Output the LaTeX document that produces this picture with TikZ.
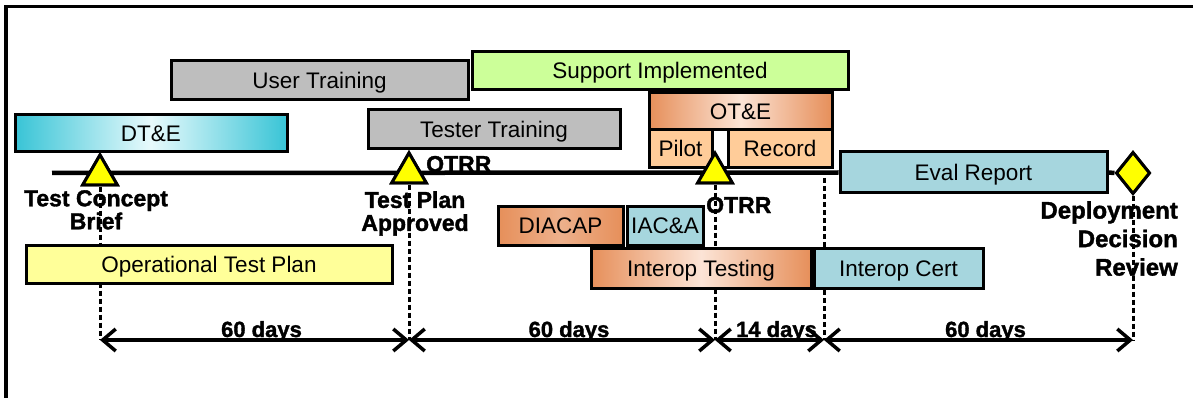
\documentclass[tikz,border=0pt]{standalone}
\usepackage{fontspec}
\setmainfont{Liberation Sans}
\newfontfamily\heavyfont{Liberation Sans}[BoldFeatures={FakeBold=1.5}]
\usetikzlibrary{arrows.meta,shapes.geometric}
\definecolor{grayfill}{HTML}{BEBEBE}
\definecolor{greenfill}{HTML}{CCFF99}
\definecolor{paleyellow}{HTML}{FFFF99}
\definecolor{peach}{HTML}{FFCC99}
\definecolor{lightblue}{HTML}{A6D6DE}
\definecolor{orangefill}{HTML}{E68F5A}
\definecolor{orangelight}{HTML}{FCE4D6}
\definecolor{cyanfill}{HTML}{38C4D6}
\definecolor{cyanlight}{HTML}{E8FAFC}
\definecolor{markyellow}{HTML}{FFFF00}
\begin{document}
\begin{tikzpicture}[x=1pt,y=-1pt,
  box/.style={draw=black, line width=3pt, inner sep=0pt,
    font=\fontsize{22.5}{22.5}\selectfont, text height=16pt, text depth=0pt},
  grad/.style={left color=#1, right color=#1},
  tri/.style={regular polygon, regular polygon sides=3, draw=black, fill=markyellow,
    line width=3pt, minimum size=40pt, inner sep=0pt},
  milestone/.style={font=\heavyfont\bfseries\fontsize{23}{23}\selectfont, align=center, inner sep=0pt},
  dashline/.style={line width=3pt, dash pattern=on 5pt off 3pt},
  dimarrow/.style={line width=3.5pt, {Straight Barb[length=13pt,width=22pt]}-{Straight Barb[length=13pt,width=22pt]}},
  daylabel/.style={font=\heavyfont\bfseries\fontsize{22}{22}\selectfont, anchor=base, yshift=3pt, xshift=7pt, inner sep=0pt},
  timeline/.style={line width=4.5pt}
]
\useasboundingbox (0,0) rectangle (1193,398);
% frame
\draw[line width=3.5pt] (6,398) -- (6,6.5) -- (1193,6.5);

% coordinates
\coordinate (lstart) at (52,173);
\coordinate (a1) at (100,340);
\coordinate (a2) at (409,340);
\coordinate (a3) at (715,340);
\coordinate (a4) at (824,340);
\coordinate (a5) at (1133,340);
\coordinate (c4top) at (824,178);

% milestones
\node[tri] (t1) at (100,175) {};
\node[tri] (t2) at (409,173) {};
\node[tri] (t3) at (715,173) {};
\node[diamond, draw=black, fill=markyellow, line width=3pt, minimum width=34pt,
  minimum height=42pt, inner sep=0pt] (dia) at (1133,173) {};

% eval report box (needed for timeline)
\node[box, fill=lightblue, minimum width=267pt, minimum height=41pt] (eval) at (973.5,172.5) {Eval Report};

% timeline
\draw[timeline] (lstart) -- (eval.west);
\draw[timeline] (eval.east) -- (dia.west);

% dashed lines
\draw[dashline] (t1.south) -- (a1);
\draw[dashline] (t2.south) -- (a2);
\draw[dashline] (t3.south) -- (a3);
\draw[dashline] (c4top) -- (a4);
\draw[dashline] (dia.south) -- (a5);

% redraw milestones on top
\node[tri] at (100,175) {};
\node[tri] at (409,173) {};
\node[diamond, draw=black, fill=markyellow, line width=3pt, minimum width=34pt,
  minimum height=42pt, inner sep=0pt] at (1133,173) {};

% boxes
\node[box, fill=grayfill, minimum width=297pt, minimum height=39pt] (usertr) at (319.5,80.5) {User Training};
\node[box, grad=cyanfill, middle color=cyanlight, minimum width=272pt, minimum height=37pt] (dte) at (151,133.5) {DT\&E};
\node[box, fill=grayfill, minimum width=252pt, minimum height=39pt] (testertr) at (494,129.5) {Tester Training};
\node[box, fill=greenfill, minimum width=376pt, minimum height=38pt] (support) at (660,71) {Support Implemented};
\node[box, fill=white, minimum width=183pt, minimum height=75pt] (otegrp) at (740.5,130.5) {};
\node[box, grad=orangefill, middle color=orangelight, minimum width=183pt, minimum height=37pt] (ote) at (740.5,111.5) {OT\&E};
\node[box, fill=peach, minimum width=63pt, minimum height=38pt] (pilot) at (680.5,149) {Pilot};
\node[box, fill=peach, minimum width=104pt, minimum height=38pt] (record) at (780,149) {Record};
\node[box, fill=paleyellow, minimum width=366pt, minimum height=38pt] (otp) at (209,264) {Operational Test Plan};
\node[box, grad=orangefill, middle color=orangefill!70!white, minimum width=125pt, minimum height=39pt] (diacap) at (560.5,225.5) {DIACAP};
\node[box, fill=lightblue, minimum width=76pt, minimum height=39pt] (iaca) at (665,225.5) {IAC\&A};
\node[box, grad=orangefill, middle color=orangelight, minimum width=220pt, minimum height=40pt] (itest) at (701,268) {Interop Testing};
\node[box, fill=lightblue, minimum width=169pt, minimum height=40pt] (icert) at (898.5,268) {Interop Cert};

% triangle at OT&E gap on top of boxes
\node[tri] at (715,173) {};

% milestone labels
\node[milestone, anchor=north] (lbl1) at (96,190) {Test Concept\\Brief};
\node[milestone, anchor=north] (lbl2) at (415,191) {Test Plan\\Approved};
\node[milestone, anchor=base west] (otrr1) at (426,172) {OTRR};
\node[milestone, anchor=base west] (otrr2) at (706,213) {OTRR};
\node[font=\heavyfont\bfseries\fontsize{24}{28.5}\selectfont, align=right, inner sep=0pt, anchor=north east]
  (lbl3) at (1178,201) {Deployment\\Decision\\Review};

% dimension arrows
\draw[dimarrow] (a1) -- node[daylabel] {60 days} (a2);
\draw[dimarrow] (a2) -- node[daylabel] {60 days} (a3);
\draw[dimarrow] (a3) -- node[daylabel] {14 days} (a4);
\draw[dimarrow] (a4) -- node[daylabel] {60 days} (a5);
\end{tikzpicture}
\end{document}
